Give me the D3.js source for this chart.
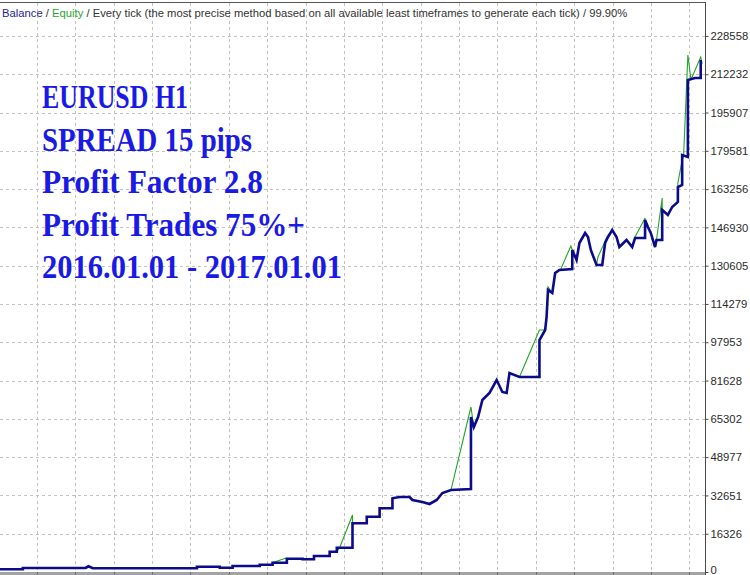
<!DOCTYPE html>
<html>
<head>
<meta charset="utf-8">
<script src="https://cdn.jsdelivr.net/npm/d3@7"></script>
<style>
  body { margin: 0; background: #fff; }
  svg { display: block; }
</style>
</head>
<body>
<svg id="chart"></svg>
<script>
// trade number, account value
const balance = [
  [0,1150],[16,1150],[16,1710],[60,1710],[62,2430],[65,1580],[138,1580],[138,2260],
  [154,2260],[154,1830],[163,1830],[163,2560],[182,2560],[182,3110],[191,3110],[191,3970],
  [201,3970],[201,5670],[212,5670],[212,5420],[220,5420],[220,6820],[231,6820],[231,8660],
  [236,8660],[236,10360],[247,10360],[247,20760],[257,20760],[257,23580],[266,23580],[266,27160],
  [275,27160],[275,31420],[280,31980],[287,31980],[289,30700],[296,29850],[301,28990],[306,30700],
  [310,33680],[316,34960],[330,35390],[330,66090],[332,61820],[335,66090],[338,73340],[343,76320],
  [348,81860],[352,76750],[355,76320],[357,84850],[364,83140],[378,83140],[378,98920],[382,103180],
  [383,108720],[384,120240],[387,118960],[389,127490],[392,128770],[401,129190],[401,137290],[404,133030],
  [406,140280],[410,144540],[412,142840],[414,137290],[418,130900],[422,130900],[424,140280],[426,142840],
  [429,145820],[432,142840],[434,138570],[439,141560],[443,138570],[445,142410],[452,142410],[452,150080],
  [454,147100],[456,144540],[459,138570],[460,141560],[464,141560],[464,154350],[468,152220],[471,155630],
  [475,157760],[475,164160],[478,165010],[478,177800],[482,176950],[482,209780],[487,210630],[491,210630],
  [491,218300]
];

const equity = [
  [0,1150],[16,1150],[16,1710],[60,1710],[62,2430],[65,1580],[138,1580],[138,2260],
  [154,2260],[154,1830],[163,1830],[163,2560],[182,2560],[182,3110],[191,3110],[191,3970],
  [200,5880],[201,5670],[212,5670],[212,5420],[220,5420],[220,6820],[231,6820],[231,8660],
  [236,8660],[238,10360],[247,24300],[247,20760],[257,20760],[257,23580],[266,23580],[266,27160],
  [275,27160],[275,31420],[280,31980],[287,31980],[289,30700],[296,29850],[301,28990],[306,30700],
  [310,33680],[316,34960],[330,70350],[331,66090],[332,61820],[335,66090],[338,73340],[343,76320],
  [348,81860],[352,76750],[355,76320],[357,84850],[364,83140],[378,103180],[382,103180],[383,108720],
  [384,121520],[387,118960],[389,127490],[392,128770],[393,129190],[400,138990],[401,137290],[404,133030],
  [406,140280],[410,144540],[412,142840],[414,137290],[418,130900],[419,134310],[425,142410],[426,142840],
  [429,145820],[432,142840],[434,138570],[439,141560],[443,138570],[445,142840],[452,150930],[452,150080],
  [454,147100],[456,144540],[459,138570],[460,141560],[464,159470],[464,154350],[468,152220],[471,155630],
  [475,157760],[475,165860],[478,175660],[479,177370],[482,220440],[484,210630],[485,211060],[491,219580],
  [492,216600]
];

const yTicks = [0, 16326, 32651, 48977, 65302, 81628, 97953, 114279, 130605,
                146930, 163256, 179581, 195907, 212232, 228558];

const headerParts = ['Balance', ' / ', 'Equity',
  ' / Every tick (the most precise method based on all available least timeframes to generate each tick) / 99.90%'];

const notes = ['EURUSD H1', 'SPREAD 15 pips', 'Profit Factor 2.8', 'Profit Trades 75%+', '2016.01.01 - 2017.01.01'];

class EquityChart {
  constructor(config) {
    this.config = {
      parent: config.parent,
      width: config.width || 750,
      height: config.height || 575,
      plot: config.plot || {left: 0, right: 705, top: 3, bottom: 572}
    };
    this.init();
  }

  init() {
    let self = this;
    const p = self.config.plot;

    self.svg = d3.select(self.config.parent)
      .attr('width', self.config.width)
      .attr('height', self.config.height);

    self.xscale = d3.scaleLinear().domain([0, 494]).range([p.left, p.right]);
    self.yscale = d3.scaleLinear().domain([0, 242600]).range([p.bottom, p.top]);
  }

  render() {
    let self = this;
    const p = self.config.plot;

    // grid
    const grid = self.svg.append('g')
      .attr('stroke', '#c2c2c2')
      .attr('stroke-dasharray', '3,3');
    const gridStep = 38.37;
    d3.range(37, p.right, gridStep).forEach(x => {
      grid.append('line')
        .attr('x1', Math.round(x) + 0.5).attr('x2', Math.round(x) + 0.5)
        .attr('y1', p.top).attr('y2', p.bottom);
    });
    yTicks.slice(1).forEach(v => {
      const y = Math.round(self.yscale(v)) + 0.5;
      grid.append('line')
        .attr('x1', p.left).attr('x2', p.right)
        .attr('y1', y).attr('y2', y);
    });

    // bottom strip
    self.svg.append('rect')
      .attr('x', p.left).attr('y', p.bottom)
      .attr('width', p.right - p.left).attr('height', 3)
      .attr('fill', '#a3a3a3');
    d3.range(37, p.right, gridStep).forEach(x => {
      self.svg.append('line')
        .attr('x1', Math.round(x) + 0.5).attr('x2', Math.round(x) + 0.5)
        .attr('y1', p.bottom).attr('y2', p.bottom + 3)
        .attr('stroke', '#6e6e6e');
    });

    // frame
    self.svg.append('line')
      .attr('x1', p.left).attr('x2', p.right + 0.5)
      .attr('y1', p.top - 0.5).attr('y2', p.top - 0.5)
      .attr('stroke', '#555').attr('stroke-width', 1);

    // right axis
    const yaxis = d3.axisRight(self.yscale)
      .tickValues(yTicks)
      .tickSize(3)
      .tickPadding(2)
      .tickFormat(d3.format('d'));
    const axisG = self.svg.append('g')
      .attr('transform', `translate(${p.right + 0.5},0)`)
      .call(yaxis);
    axisG.select('.domain')
      .attr('d', `M0,${p.top - 1}V${p.bottom + 3}`)
      .attr('stroke', '#4a4a4a');
    axisG.selectAll('.tick line').attr('stroke', '#4a4a4a');
    axisG.selectAll('.tick text')
      .style('font-family', '"Liberation Sans", Arial, sans-serif')
      .style('font-size', '11.3px')
      .attr('fill', '#2b2b2b');
    // lowest label sits on the bottom edge, lift it slightly so it stays readable
    axisG.selectAll('.tick text').filter(d => d === 0).attr('dy', '0.1em');

    // curves
    const line = d3.line()
      .x(d => self.xscale(d[0]))
      .y(d => self.yscale(d[1]));

    self.svg.append('path')
      .datum(equity)
      .attr('d', line)
      .attr('fill', 'none')
      .attr('stroke', '#22a522')
      .attr('stroke-width', 1.1);

    self.svg.append('path')
      .datum(balance)
      .attr('d', line)
      .attr('fill', 'none')
      .attr('stroke', '#0b0b8c')
      .attr('stroke-width', 2.6)
      .attr('stroke-linejoin', 'miter');

    // header
    const headerColors = ['#24249a', '#333', '#2aa52a', '#333'];
    const head = self.svg.append('text')
      .attr('x', 2).attr('y', 16.5)
      .style('font-family', '"Liberation Sans", Arial, sans-serif')
      .style('font-size', '11.25px');
    headerParts.forEach((t, i) => {
      head.append('tspan').attr('fill', headerColors[i]).text(t);
    });

    // annotation block
    const noteWidths = [146, 210, 221, 263, 300];
    notes.forEach((t, i) => {
      self.svg.append('text')
        .attr('x', 42)
        .attr('y', 108 + i * 42.5)
        .attr('textLength', noteWidths[i])
        .attr('lengthAdjust', 'spacingAndGlyphs')
        .style('font-family', '"Liberation Serif", "Times New Roman", serif')
        .style('font-weight', 'bold')
        .style('font-size', '33px')
        .attr('fill', '#1a1ae6')
        .text(t);
    });
  }
}

let chart = new EquityChart({parent: '#chart', width: 750, height: 575});
chart.render();
</script>
</body>
</html>
